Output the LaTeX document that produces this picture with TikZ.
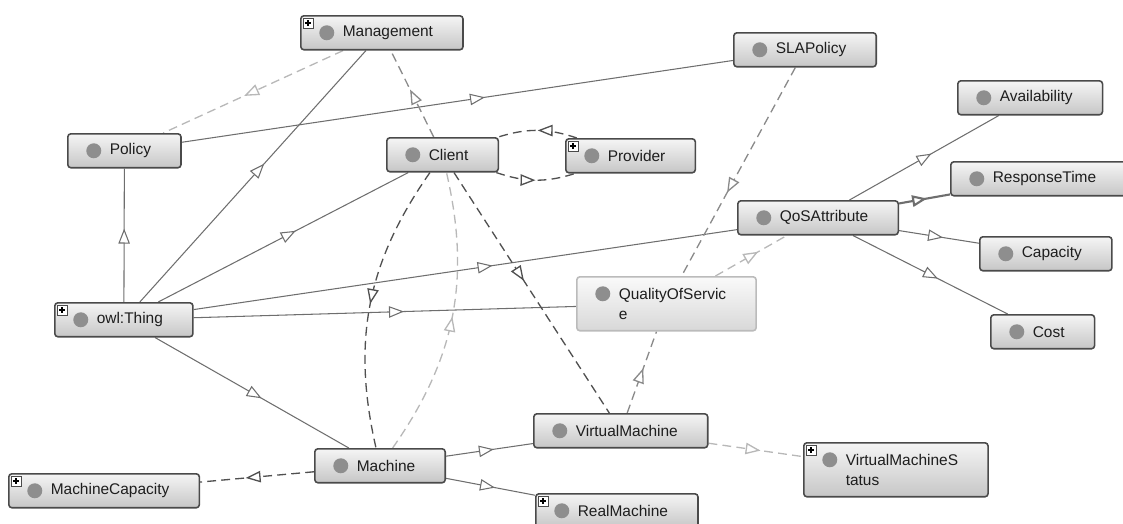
\documentclass[tikz,border=0pt]{standalone}
\usepackage{fontspec}
\setmainfont{Liberation Sans}
\usetikzlibrary{arrows.meta,decorations.markings,backgrounds}

\tikzset{
  % class boxes
  cls/.style={draw=boxLine, line width=0.9pt, rounded corners=1.8pt,
    top color=boxTop, bottom color=boxBot, anchor=north west,
    minimum height=0.68cm, inner xsep=0.6cm, inner ysep=0.1cm,
    font=\fontsize{8.8}{11.4}\selectfont, text=txtCol,
    execute at begin node={\hspace*{0.24cm}},
    path picture={\fill[dotGray] ([xshift=0.52cm,yshift=-0.34cm]path picture bounding box.north west) circle (0.15cm);}},
  clstwo/.style={cls, align=left, minimum height=1.08cm},
  selcls/.style={draw=selLine, top color=selTop, bottom color=selBot},
  % edges
  tri/.style={postaction={decorate}, decoration={markings,
    mark=at position #1 with {\arrow{Triangle[fill=white,length=8.5pt,width=6.5pt]}}}},
  isa/.style={lineGray, line width=0.6pt, tri=#1}, isa/.default=0.55,
  dkdash/.style={dashDark, line width=0.75pt, dash pattern=on 5pt off 3pt, tri=#1}, dkdash/.default=0.55,
  mddash/.style={dashMid, line width=0.75pt, dash pattern=on 5pt off 3pt, tri=#1}, mddash/.default=0.55,
  ltdash/.style={dashLight, line width=0.75pt, dash pattern=on 5pt off 3pt, tri=#1}, ltdash/.default=0.55
}

\begin{document}
\begin{tikzpicture}[x=0.02cm, y=-0.02cm]

% Colours
\definecolor{boxTop}{HTML}{F5F5F5}
\definecolor{boxBot}{HTML}{C6C6C6}
\definecolor{boxLine}{HTML}{4A4A4A}
\definecolor{selTop}{HTML}{FAFAFA}
\definecolor{selBot}{HTML}{D8D8D8}
\definecolor{selLine}{HTML}{BBBBBB}
\definecolor{dotGray}{HTML}{8E8E8E}
\definecolor{txtCol}{HTML}{1E1E1E}
\definecolor{lineGray}{HTML}{6E6E6E}
\definecolor{dashDark}{HTML}{505050}
\definecolor{dashMid}{HTML}{8A8A8A}
\definecolor{dashLight}{HTML}{B8B8B8}

\useasboundingbox (0,0) rectangle (1123,524);

% Classes
\node[cls] (mgmt) at (300,15) {Management};
\node[cls] (sla) at (733,32) {SLAPolicy};
\node[cls] (avail) at (957,80) {Availability};
\node[cls] (policy) at (67,133) {Policy};
\node[cls] (client) at (386,137) {Client};
\node[cls] (prov) at (565,138) {Provider};
\node[cls] (resp) at (950,161) {ResponseTime};
\node[cls] (qosattr) at (737,200) {QoSAttribute};
\node[cls] (cap) at (979,236) {Capacity};
\node[clstwo, selcls] (qserv) at (576,276) {QualityOfServic\\e};
\node[cls] (thing) at (54,302) {owl:Thing};
\node[cls] (cost) at (990,314) {Cost};
\node[cls] (vm) at (533,413) {VirtualMachine};
\node[clstwo] (vmstat) at (803,442) {VirtualMachineS\\tatus};
\node[cls] (mach) at (314,448) {Machine};
\node[cls] (mcap) at (8,473) {MachineCapacity};
\node[cls] (rmach) at (535,493) {RealMachine};

% Expand marks
\foreach \n in {mgmt,prov,thing,mcap,rmach,vmstat}{
  \draw[boxLine, line width=0.5pt, fill=white] ([shift={(3,3)}]\n.north west) rectangle ++(10,10);
  \draw[black, line width=0.6pt] ([shift={(8,5)}]\n.north west) -- ++(0,6)
    ([shift={(5,8)}]\n.north west) -- ++(6,0);
}

\begin{scope}[on background layer]
% Subclass links
\draw[isa] (thing) -- (policy);
\draw[isa] (thing) -- (mgmt);
\draw[isa] (thing) -- (client);
\draw[isa] (thing) -- (qosattr);
\draw[isa] (thing) -- (qserv);
\draw[isa] (thing) -- (mach);
\draw[isa] (policy) -- (sla);
\draw[isa] (qosattr) -- (avail);
\draw[isa, line width=1.2pt] (qosattr) -- (resp);
\draw[isa] (qosattr) -- (cap);
\draw[isa] (qosattr) -- (cost);
\draw[isa] (mach) -- (vm);
\draw[isa] (mach) -- (rmach);

% Property links
\draw[ltdash] (mgmt) -- (policy);
\draw[mddash] (client) -- (mgmt);
\draw[dkdash=0.5] (prov) to[bend right=18] (client);
\draw[dkdash=0.5] (client) to[bend right=18] (prov);
\draw[dkdash=0.5] (client) to[bend right=24] (mach);
\draw[ltdash=0.5] (mach) to[bend right=24] (client);
\draw[dkdash=0.45] (client) -- (vm);
\draw[mddash=0.6] (sla) -- (qserv);
\draw[ltdash=0.6] (qserv) -- (qosattr);
\draw[mddash] (vm) -- (qserv);
\draw[ltdash] (vm) -- (vmstat);
\draw[dkdash=0.6] (mach) -- (mcap);
\end{scope}

\end{tikzpicture}
\end{document}
